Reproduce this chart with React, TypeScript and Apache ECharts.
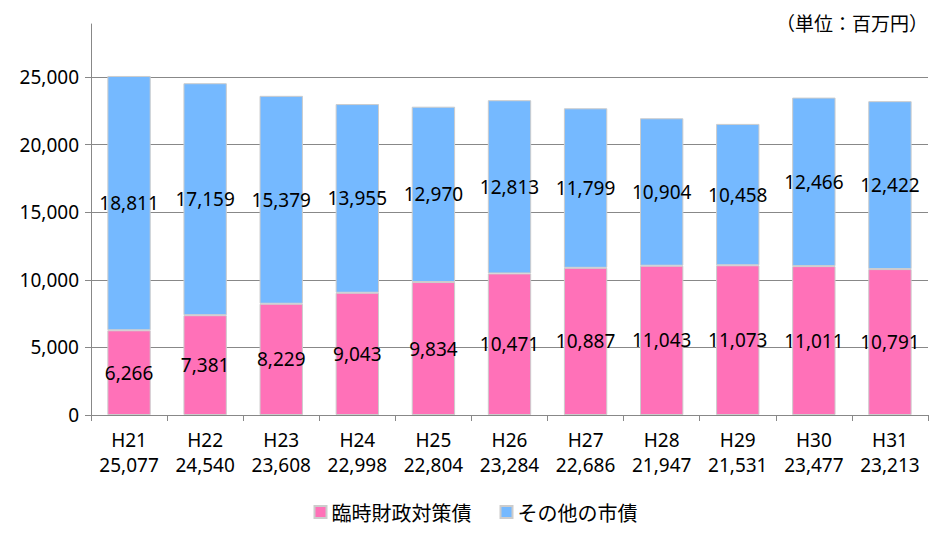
import React, { useEffect, useRef } from "react";
import * as echarts from "echarts";

const categories = ["H21", "H22", "H23", "H24", "H25", "H26", "H27", "H28", "H29", "H30", "H31"];
const totals = [25077, 24540, 23608, 22998, 22804, 23284, 22686, 21947, 21531, 23477, 23213];
const rinjiValues = [6266, 7381, 8229, 9043, 9834, 10471, 10887, 11043, 11073, 11011, 10791];
const otherValues = [18811, 17159, 15379, 13955, 12970, 12813, 11799, 10904, 10458, 12466, 12422];
const seriesNames = ["臨時財政対策債", "その他の市債"];
const unitLabel = "（単位：百万円）";

const fmt = (v: number) => v.toLocaleString("en-US");
const FONT = "'Noto Sans', 'Noto Sans CJK JP', sans-serif";
const CJK = "'Noto Sans CJK JP', sans-serif";

export default function App() {
  const ref = useRef<HTMLDivElement>(null);
  useEffect(() => {
    if (!ref.current) return;
    const chart = echarts.init(ref.current, undefined, { renderer: "svg" });
    const labelStyle = {
      show: true,
      position: "inside" as const,
      color: "#000",
      fontSize: 19,
      fontFamily: FONT,
      formatter: (p: any) => fmt(p.value),
    };
    chart.setOption({
      animation: false,
      backgroundColor: "#fff",
      textStyle: { fontFamily: FONT },
      title: {
        text: unitLabel,
        right: 18,
        top: 8,
        textStyle: { fontSize: 19, fontWeight: "normal", color: "#000", fontFamily: CJK },
      },
      grid: { left: 91, right: 23, top: 24, bottom: 130 },
      legend: {
        bottom: 18,
        left: "center",
        itemWidth: 12,
        itemHeight: 12,
        itemGap: 28,
        icon: "rect",
        textStyle: { fontSize: 20, color: "#000", fontFamily: CJK },
        data: seriesNames,
      },
      xAxis: {
        type: "category",
        data: categories,
        axisLine: { lineStyle: { color: "#888", width: 1 } },
        axisTick: { show: true, length: 6, lineStyle: { color: "#888" } },
        axisLabel: {
          interval: 0,
          color: "#000",
          fontSize: 19,
          lineHeight: 25,
          margin: 12,
          fontFamily: FONT,
          formatter: (v: string, i: number) => `${v}\n${fmt(totals[i])}`,
        },
      },
      yAxis: {
        type: "value",
        min: 0,
        max: 28920,
        interval: 5000,
        axisLine: { show: true, lineStyle: { color: "#888", width: 1 } },
        axisTick: { show: true, length: 6, lineStyle: { color: "#888" } },
        splitLine: { show: true, showMaxLine: false, lineStyle: { color: "#888", width: 1 } },
        axisLabel: {
          color: "#000",
          fontSize: 19,
          margin: 12,
          fontFamily: FONT,
          showMaxLabel: false,
          formatter: (v: number) => (v % 5000 === 0 ? fmt(v) : ""),
        },
      },
      series: [
        {
          name: seriesNames[0],
          type: "bar",
          stack: "total",
          data: rinjiValues,
          barWidth: "57%",
          itemStyle: { color: "#FF71B8", borderColor: "#cccccc", borderWidth: 1 },
          label: labelStyle,
        },
        {
          name: seriesNames[1],
          type: "bar",
          stack: "total",
          data: otherValues,
          barWidth: "57%",
          itemStyle: { color: "#75B9FF", borderColor: "#cccccc", borderWidth: 1 },
          label: labelStyle,
        },
      ],
    });
    return () => chart.dispose();
  }, []);
  return (
    <div
      ref={ref}
      style={{ position: "absolute", left: 0, top: 0, width: 951, height: 545 }}
    />
  );
}
